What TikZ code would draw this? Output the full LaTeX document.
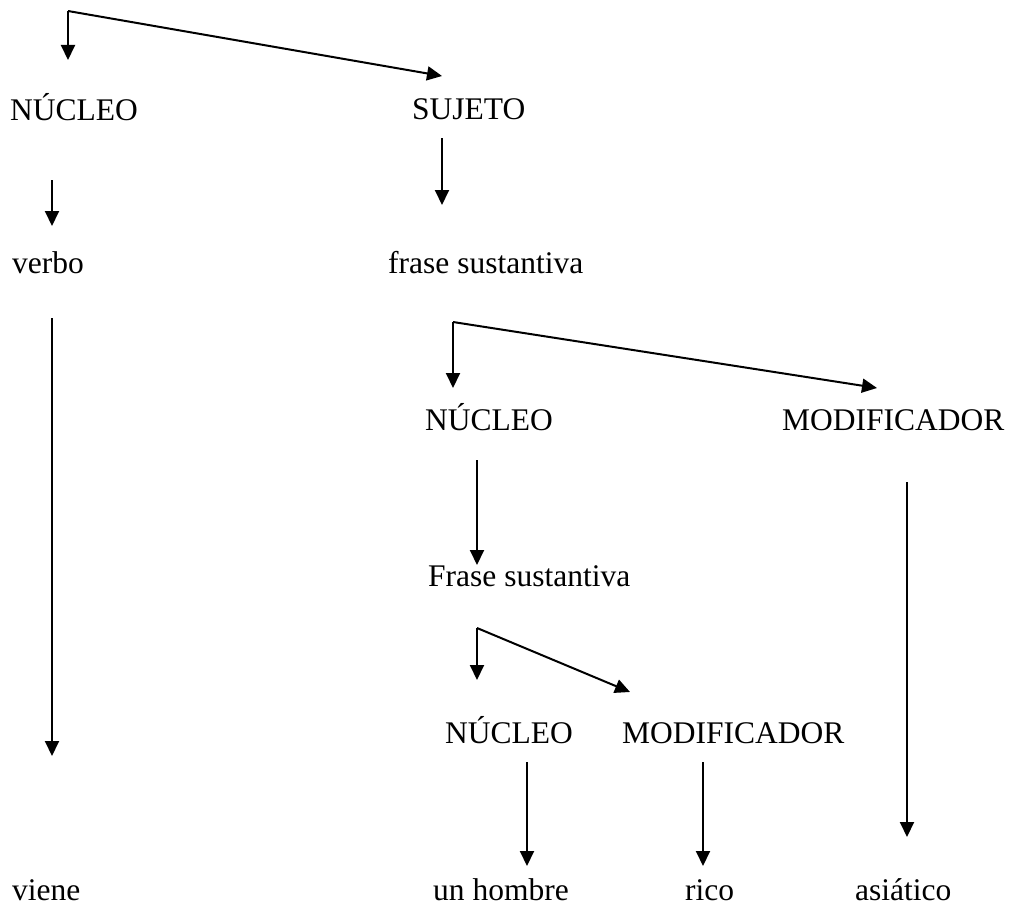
\documentclass[tikz,border=0pt]{standalone}
\usepackage{fontspec}
\setmainfont{Liberation Serif}
\usetikzlibrary{arrows.meta}
\begin{document}
\begin{tikzpicture}[x=1pt,y=-1pt,
  lbl/.style={inner sep=0pt,anchor=base west,font=\fontsize{31.5}{36}\selectfont},
  arr/.style={line width=2pt,-{Triangle[length=15pt,width=14pt]}}]
\useasboundingbox (0,0) rectangle (1013,907);
% labels
\node[lbl] (n1) at (10,121) {NÚCLEO};
\node[lbl] (suj) at (412,119) {SUJETO};
\node[lbl] (verbo) at (12,273) {verbo};
\node[lbl] (fs1) at (388,273) {frase sustantiva};
\node[lbl] (viene) at (12,900) {viene};
\node[lbl] (n2) at (425,430) {NÚCLEO};
\node[lbl] (m1) at (782,430) {MODIFICADOR};
\node[lbl] (fs2) at (428,586) {Frase sustantiva};
\node[lbl] (n3) at (445,743) {NÚCLEO};
\node[lbl] (m2) at (622,743) {MODIFICADOR};
\node[lbl] (hom) at (433,900) {un hombre};
\node[lbl] (rico) at (685,900) {rico};
\node[lbl] (asia) at (855,900) {asiático};
% coordinates
\coordinate (c1) at (68,11);
\coordinate (c1a) at (68,60);
\coordinate (c1b) at (442,76);
\coordinate (a1s) at (52,180);
\coordinate (a1e) at (52,226);
\coordinate (a2s) at (442,138);
\coordinate (a2e) at (442,205);
\coordinate (a3s) at (52,318);
\coordinate (a3e) at (52,756);
\coordinate (c2) at (453,322);
\coordinate (c2a) at (453,388);
\coordinate (c2b) at (877,388);
\coordinate (a4s) at (477,460);
\coordinate (a4e) at (477,565);
\coordinate (a5s) at (907,482);
\coordinate (a5e) at (907,837);
\coordinate (c3) at (477,628);
\coordinate (c3a) at (477,680);
\coordinate (c3b) at (630,692);
\coordinate (a6s) at (527,762);
\coordinate (a6e) at (527,866);
\coordinate (a7s) at (703,762);
\coordinate (a7e) at (703,866);
% connectors
\draw[arr] (c1) -- (c1a);
\draw[arr] (c1) -- (c1b);
\draw[arr] (a1s) -- (a1e);
\draw[arr] (a2s) -- (a2e);
\draw[arr] (a3s) -- (a3e);
\draw[arr] (c2) -- (c2a);
\draw[arr] (c2) -- (c2b);
\draw[arr] (a4s) -- (a4e);
\draw[arr] (a5s) -- (a5e);
\draw[arr] (c3) -- (c3a);
\draw[arr] (c3) -- (c3b);
\draw[arr] (a6s) -- (a6e);
\draw[arr] (a7s) -- (a7e);
\end{tikzpicture}
\end{document}
